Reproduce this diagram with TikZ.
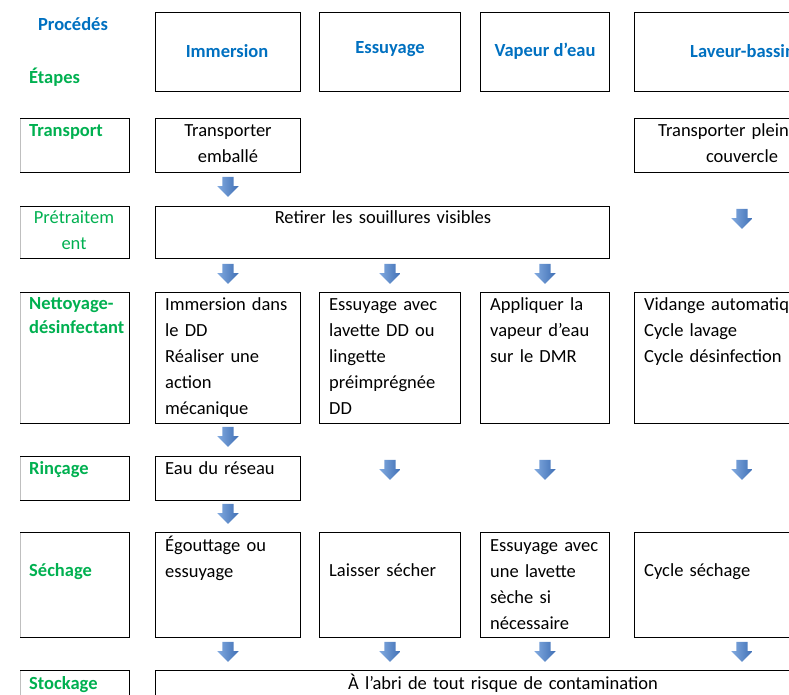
\documentclass[tikz,border=0pt]{standalone}
\usepackage{fontspec}
\setmainfont{Carlito}
\usetikzlibrary{shapes.arrows}

\definecolor{procblue}{HTML}{0070C0}
\definecolor{etapgreen}{HTML}{00B050}
\definecolor{arrlight}{HTML}{82AADF}
\definecolor{arrdark}{HTML}{3F6FB5}

\tikzset{
  box/.style={draw=black, line width=0.8pt, rectangle, inner sep=0pt, anchor=north west},
  etape/.style={draw=black!25, line width=0.8pt, rectangle, inner sep=0pt, anchor=north west, minimum width=109pt},
  txt/.style={inner sep=0pt, font=\fontsize{18.5}{26}\selectfont, align=left, text width=260pt, anchor=base west},
  ctxt/.style={inner sep=0pt, font=\fontsize{18.5}{26}\selectfont, align=center, text width=200pt, anchor=base},
  proc/.style={inner sep=0pt, font=\fontsize{18.5}{26}\selectfont\bfseries, text=procblue, anchor=base},
  etap/.style={inner sep=0pt, font=\fontsize{18.5}{24}\selectfont\bfseries, text=etapgreen, align=left, text width=100pt, anchor=base west},
  darr/.style={single arrow, rotate=-90, draw=none, inner xsep=0pt, inner ysep=5.5pt, minimum height=20pt, minimum width=21pt,
    single arrow head extend=5pt, left color=arrlight, right color=arrdark}
}

\begin{document}
\begin{tikzpicture}[x=1pt, y=-1pt]
  \clip (0,0) rectangle (789,695);

  % en-tetes
  \node[proc] (procedes) at (73,31) {Procédés};
  \node[etap] (etapes) at (29,84) {Étapes};
  \node[box, minimum width=145pt, minimum height=79pt] (hImm) at (155,12) {};
  \node[box, minimum width=141pt, minimum height=79pt] (hEss) at (319,12) {};
  \node[box, minimum width=129pt, minimum height=79pt] (hVap) at (480,12) {};
  \node[box, minimum width=200pt, minimum height=79pt] (hLav) at (634,12) {};
  \node[proc] (tImm) at (227,58) {Immersion};
  \node[proc] (tEss) at (390,54) {Essuyage};
  \node[proc] (tVap) at (545,57) {Vapeur d’eau};
  \node[proc, anchor=base west] (tLav) at (690,58) {Laveur-bassin};

  % etapes (colonne de gauche)
  \node[etape, minimum height=54pt] (eTra) at (20,118) {};
  \node[etape, minimum height=52pt] (ePre) at (20,206) {};
  \node[etape, minimum height=131pt] (eNet) at (20,292) {};
  \node[etape, minimum height=44pt] (eRin) at (20,456) {};
  \node[etape, minimum height=105pt] (eSec) at (20,532) {};
  \node[etape, minimum height=50pt] (eSto) at (20,670) {};
  \foreach \n in {eTra,ePre,eNet,eRin,eSec,eSto}
    \draw[line width=0.8pt] (\n.north west) -- (\n.north east) -- (\n.south east) -- (\n.south west);
  \node[etap] (lTra) at (29,137) {Transport};
  \node[etap, font=\fontsize{18.5}{26}\selectfont, align=center, anchor=base] (lPre) at (74,223) {Prétraitem\\ent};
  \node[etap] (lNet) at (29,309) {Nettoyage-\\désinfectant};
  \node[etap] (lRin) at (29,474) {Rinçage};
  \node[etap] (lSec) at (29,576) {Séchage};
  \node[etap] (lSto) at (29,689) {Stockage};

  % transport
  \node[box, minimum width=145pt, minimum height=54pt] (trImm) at (155,118) {};
  \node[box, minimum width=200pt, minimum height=54pt] (trLav) at (634,118) {};
  \node[ctxt] (xTrImm) at (228,137) {Transporter\\emballé};
  \node[txt] (xTrLav1) at (658,137) {Transporter plein};
  \node[ctxt] (xTrLav2) at (742,163) {couvercle};

  % pretraitement
  \node[box, minimum width=454pt, minimum height=52pt] (ret) at (155,206) {};
  \node[ctxt, text width=440pt] (xRet) at (383,223) {Retirer les souillures visibles};

  % nettoyage-desinfectant
  \node[box, minimum width=145pt, minimum height=131pt] (nImm) at (155,292) {};
  \node[box, minimum width=141pt, minimum height=131pt] (nEss) at (319,292) {};
  \node[box, minimum width=129pt, minimum height=131pt] (nVap) at (480,292) {};
  \node[box, minimum width=200pt, minimum height=131pt] (nLav) at (634,292) {};
  \node[txt] (xnImm) at (165,310) {Immersion dans\\le DD\\Réaliser une\\action\\mécanique};
  \node[txt] (xnEss) at (329,310) {Essuyage avec\\lavette DD ou\\lingette\\préimprégnée\\DD};
  \node[txt] (xnVap) at (490,310) {Appliquer la\\vapeur d’eau\\sur le DMR};
  \node[txt] (xnLav) at (644,310) {Vidange automatique\\Cycle lavage\\Cycle désinfection};

  % rincage
  \node[box, minimum width=145pt, minimum height=44pt] (rImm) at (155,456) {};
  \node[txt] (xrImm) at (165,474) {Eau du réseau};

  % sechage
  \node[box, minimum width=145pt, minimum height=105pt] (sImm) at (155,532) {};
  \node[box, minimum width=141pt, minimum height=105pt] (sEss) at (319,532) {};
  \node[box, minimum width=129pt, minimum height=105pt] (sVap) at (480,532) {};
  \node[box, minimum width=200pt, minimum height=105pt] (sLav) at (634,532) {};
  \node[txt] (xsImm) at (165,551) {Égouttage ou\\essuyage};
  \node[txt] (xsEss) at (329,576) {Laisser sécher};
  \node[txt] (xsVap) at (490,551) {Essuyage avec\\une lavette\\sèche si\\nécessaire};
  \node[txt] (xsLav) at (644,576) {Cycle séchage};

  % stockage
  \node[box, minimum width=700pt, minimum height=50pt] (sto) at (155,670) {};
  \node[ctxt, text width=440pt] (xSto) at (503,689) {À l’abri de tout risque de contamination};

  % fleches
  \node[darr] (a1) at (228,184) {};
  \node[darr] (a2) at (742,216) {};
  \node[darr] (a3) at (228,271) {};
  \node[darr] (a4) at (390,271) {};
  \node[darr] (a5) at (545,271) {};
  \node[darr] (a6) at (228,434) {};
  \node[darr] (a7) at (390,467) {};
  \node[darr] (a8) at (545,467) {};
  \node[darr] (a9) at (742,467) {};
  \node[darr] (a10) at (228,511) {};
  \node[darr] (a11) at (228,649) {};
  \node[darr] (a12) at (390,649) {};
  \node[darr] (a13) at (545,649) {};
  \node[darr] (a14) at (742,649) {};
\end{tikzpicture}
\end{document}
